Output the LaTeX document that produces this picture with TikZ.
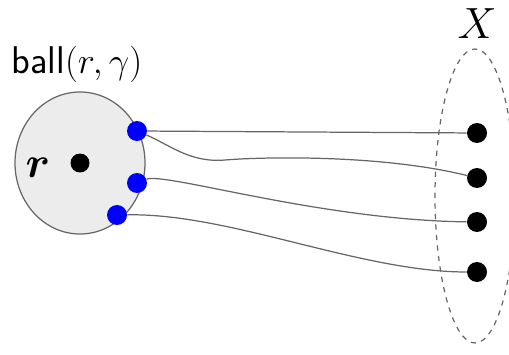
\documentclass[tikz,border=0pt]{standalone}
\usepackage{amsmath,amssymb}
\usepackage{xcolor}
\usepackage{tikz}
\usetikzlibrary{positioning}
\definecolor{EdgeBlue}{HTML}{0000FF}
\definecolor{BallFill}{HTML}{ECECEC}
\definecolor{LineGray}{HTML}{666666}

\begin{document}
\begin{tikzpicture}[
  x=0.02cm,y=-0.02cm,
  ballpt/.style={circle,fill=EdgeBlue,minimum size=0.4cm,inner sep=0pt},
  setpt/.style={circle,fill=black,minimum size=0.4cm,inner sep=0pt},
  link/.style={draw=LineGray,line width=.7pt}
]
\useasboundingbox (0,0) rectangle (509,354);
\draw[LineGray,fill=BallFill,line width=.7pt] (80,163) ellipse [x radius=65,y radius=71];
\draw[LineGray,dashed,line width=.7pt] (475,196) ellipse [x radius=40,y radius=147];
\node[circle,fill=black,minimum size=0.38cm,inner sep=0pt] (c) at (80,163) {};
\node (rlab) at (38,168) {\fontsize{27}{29}\selectfont$\boldsymbol{r}$};
\node (ball) at (77,64) {\fontsize{22}{24}\selectfont\sffamily ball$(r,\gamma)$};
\node (X) at (477,24) {\fontsize{40}{42}\selectfont$X$};
\node[ballpt] (b1) at (137,131) {};
\node[ballpt] (b2) at (137,183) {};
\node[ballpt] (b3) at (117,215) {};
\node[setpt] (x1) at (477,133) {};
\node[setpt] (x2) at (477,178) {};
\node[setpt] (x3) at (477,222) {};
\node[setpt] (x4) at (477,272) {};
\draw[link] (b1) -- (x1);
\draw[link] (b1) .. controls (170,145) and (190,163) .. (225,160) .. controls (260,157) and (380,154) .. (x2);
\draw[link] (b2) .. controls (165,172) and (320,220) .. (x3);
\draw[link] (b3) .. controls (230,213) and (360,272) .. (x4);
\end{tikzpicture}
\end{document}
